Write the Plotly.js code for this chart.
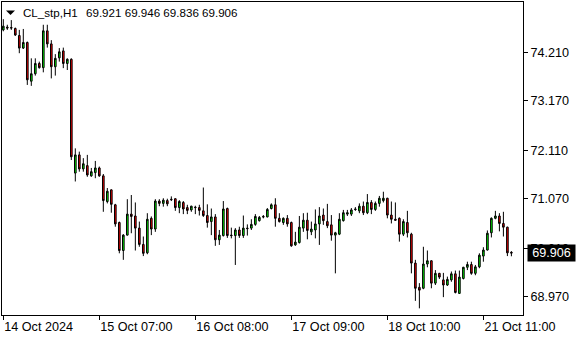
<!DOCTYPE html>
<html><head><meta charset="utf-8">
<script src="https://cdn.plot.ly/plotly-3.0.1.min.js"></script>
<style>html,body{margin:0;padding:0;background:#fff;}#chart{width:580px;height:340px;}</style>
</head><body><div id="chart"></div>
<script>
const symbol = "CL_stp,H1";

const open = [
74.69,74.75,74.74,74.72,74.57,74.30,74.42,73.59,73.75,73.97,
73.88,74.67,74.39,73.90,74.09,74.24,73.97,74.06,71.62,72.01,
71.71,71.78,71.56,71.63,71.73,71.56,71.01,71.26,70.94,70.56,
69.96,70.29,70.74,70.70,70.44,70.09,69.91,70.65,70.42,71.02,
70.97,71.03,71.06,71.07,70.88,70.99,70.88,70.83,70.89,70.88,
70.81,70.71,70.58,70.68,70.19,70.28,70.86,70.29,70.28,70.40,
70.28,70.44,70.44,70.52,70.60,70.69,70.68,70.86,70.94,70.65,
70.56,70.65,70.56,70.08,70.13,70.44,70.61,70.36,70.40,70.53,
70.72,70.58,70.51,70.29,70.31,70.60,70.74,70.74,70.85,70.81,
70.91,70.77,70.99,70.84,70.97,71.03,71.08,70.72,70.63,70.65,
70.31,70.56,70.31,69.69,69.17,69.15,69.67,69.74,69.26,69.47,
69.33,69.22,69.33,69.46,69.04,69.36,69.60,69.66,69.47,69.61,
69.84,69.97,70.34,70.65,70.70,70.54,70.46,69.921];

const high = [
74.92,74.80,74.90,74.74,74.69,74.71,74.44,74.08,74.08,74.01,
74.80,74.80,74.47,74.17,74.30,74.31,74.08,74.08,72.15,72.08,
71.94,72.01,71.73,71.88,71.76,71.60,71.30,71.27,70.96,70.58,
70.31,71.06,71.15,70.99,70.58,70.26,70.76,70.69,71.06,71.06,
71.08,71.07,71.12,71.08,71.04,71.02,70.94,70.92,70.92,70.94,
71.31,70.95,70.86,70.74,70.40,71.02,70.88,70.45,70.44,70.47,
70.71,70.52,70.63,70.74,70.70,70.72,70.87,70.97,71.08,70.76,
70.67,70.72,70.58,70.36,70.70,70.76,70.77,70.58,70.84,70.89,
70.86,70.96,70.72,70.36,70.76,70.83,70.83,70.87,70.89,70.97,
71.01,71.17,71.04,71.01,71.13,71.22,71.09,71.01,70.99,70.67,
70.63,70.81,70.34,69.76,69.26,70.04,69.96,69.75,69.54,69.48,
69.48,69.40,69.51,69.53,69.53,69.61,69.72,69.72,69.65,69.90,
70.03,70.39,70.67,70.81,70.76,70.79,70.47,69.946];

const low = [
74.66,74.69,74.69,74.56,74.19,74.28,73.51,73.49,73.71,73.86,
73.78,74.31,73.65,73.71,74.01,73.87,73.83,71.90,71.44,71.65,
71.65,71.54,71.54,71.51,71.54,70.79,70.97,70.77,70.47,69.90,
69.76,70.28,70.33,69.96,70.04,69.84,69.88,70.29,70.36,70.91,
70.90,70.91,71.02,70.81,70.76,70.74,70.74,70.79,70.74,70.71,
70.68,70.45,70.29,70.06,70.08,70.26,70.23,70.22,69.65,70.23,
70.23,70.28,70.40,70.49,70.58,70.65,70.67,70.84,70.47,70.56,
70.51,70.47,70.04,70.06,70.11,70.36,70.20,70.29,70.22,70.08,
70.51,70.44,70.17,69.47,70.29,70.58,70.70,70.70,70.81,70.76,
70.72,70.74,70.74,70.81,70.90,70.99,70.65,70.54,70.60,70.15,
70.27,70.24,69.47,68.88,68.72,69.13,69.60,69.15,69.22,69.35,
68.96,69.20,69.29,69.04,69.03,69.34,69.54,69.44,69.43,69.58,
69.72,69.96,70.24,70.63,70.37,70.26,69.84,69.836];

const close = [
74.77,74.73,74.73,74.58,74.30,74.42,73.62,73.75,73.97,73.88,
74.67,74.39,73.90,74.08,74.22,73.97,74.06,71.97,72.01,71.71,
71.82,71.58,71.65,71.73,71.56,71.03,71.23,70.95,70.53,69.96,
70.29,70.74,70.69,70.44,70.09,69.90,70.63,70.42,71.02,70.97,
71.04,70.96,71.05,70.88,71.01,70.85,70.82,70.91,70.88,70.82,
70.71,70.56,70.68,70.19,70.29,70.85,70.28,70.28,70.40,70.28,
70.44,70.43,70.52,70.69,70.67,70.68,70.84,70.94,70.65,70.58,
70.65,70.53,70.06,70.14,70.46,70.61,70.39,70.42,70.53,70.70,
70.60,70.49,70.29,70.34,70.63,70.77,70.77,70.83,70.84,70.91,
70.77,70.99,70.84,70.97,71.08,71.08,70.72,70.63,70.61,70.31,
70.58,70.34,69.69,69.15,69.11,69.67,69.74,69.26,69.47,69.39,
69.22,69.34,69.46,69.06,69.39,69.60,69.66,69.47,69.61,69.86,
69.97,70.33,70.65,70.70,70.54,70.46,69.91,69.906];

const xTickLabels = ["14 Oct 2024","15 Oct 07:00","16 Oct 08:00","17 Oct 09:00","18 Oct 10:00","21 Oct 11:00"];
const xTickBars = [0, 24, 48, 72, 96, 120];
const yTickValues = [74.21, 73.17, 72.11, 71.07, 70.01, 68.97];

const barIndex = open.map((_, i) => i);
const last = open.length - 1;
const ohlcText = [open[last], high[last], low[last], close[last]].map(v => v.toFixed(3)).join(" ");

const FONT = "Liberation Sans, Arial, sans-serif";

const trace = {
  type: "candlestick",
  x: barIndex, open: open, high: high, low: low, close: close,
  increasing: {line: {color: "#000000", width: 1}, fillcolor: "#00ff00"},
  decreasing: {line: {color: "#000000", width: 1}, fillcolor: "#ff0000"},
  whiskerwidth: 0,
  hoverinfo: "skip",
  showlegend: false
};

const layout = {
  width: 580, height: 340,
  margin: {l: 2, r: 57, t: 2, b: 25, pad: 0},
  paper_bgcolor: "#ffffff", plot_bgcolor: "#ffffff",
  showlegend: false,
  boxgap: 0.42,
  font: {family: FONT, size: 12, color: "#000"},
  xaxis: {
    range: [-0.325, 129.9], showgrid: false, zeroline: false,
    showline: true, mirror: true, linecolor: "#000", linewidth: 1,
    ticks: "outside", ticklen: 4, tickcolor: "#000", tickwidth: 1,
    tickvals: xTickBars, ticktext: xTickLabels,
    ticklabelposition: "outside right",
    tickfont: {family: FONT, size: 12.6, color: "#000"},
    rangeslider: {visible: false}, fixedrange: true
  },
  yaxis: {
    side: "right", range: [68.577, 75.288], showgrid: false, zeroline: false,
    showline: true, mirror: true, linecolor: "#000", linewidth: 1,
    ticks: "outside", ticklen: 4, tickcolor: "#000", tickwidth: 1,
    tickvals: yTickValues, ticktext: yTickValues.map(v => v.toFixed(3)),
    tickfont: {family: FONT, size: 12.6, color: "#000"},
    fixedrange: true
  },
  shapes: [{
    type: "path", xref: "paper", yref: "paper",
    path: "M0.00768,0.97284 L0.02495,0.97284 L0.01631,0.95847 Z",
    fillcolor: "#000", line: {width: 0}
  }],
  annotations: [
    {xref: "paper", yref: "paper", x: 0, y: 1, xanchor: "left", yanchor: "middle",
     xshift: 19, yshift: -10.7, text: symbol, showarrow: false,
     font: {family: FONT, size: 11.6, color: "#000"}},
    {xref: "paper", yref: "paper", x: 0, y: 1, xanchor: "left", yanchor: "middle",
     xshift: 82, yshift: -10.7, text: ohlcText, showarrow: false,
     font: {family: FONT, size: 11.6, color: "#000"}},
    {xref: "paper", yref: "y", x: 1, y: close[last], xanchor: "left", yanchor: "middle",
     xshift: 4, text: close[last].toFixed(3), showarrow: false,
     bgcolor: "#000", borderpad: 1, width: 45, align: "center",
     font: {family: FONT, size: 12.6, color: "#fff"}}
  ]
};

Plotly.newPlot("chart", [trace], layout, {staticPlot: true, displayModeBar: false});
</script>
</body></html>
